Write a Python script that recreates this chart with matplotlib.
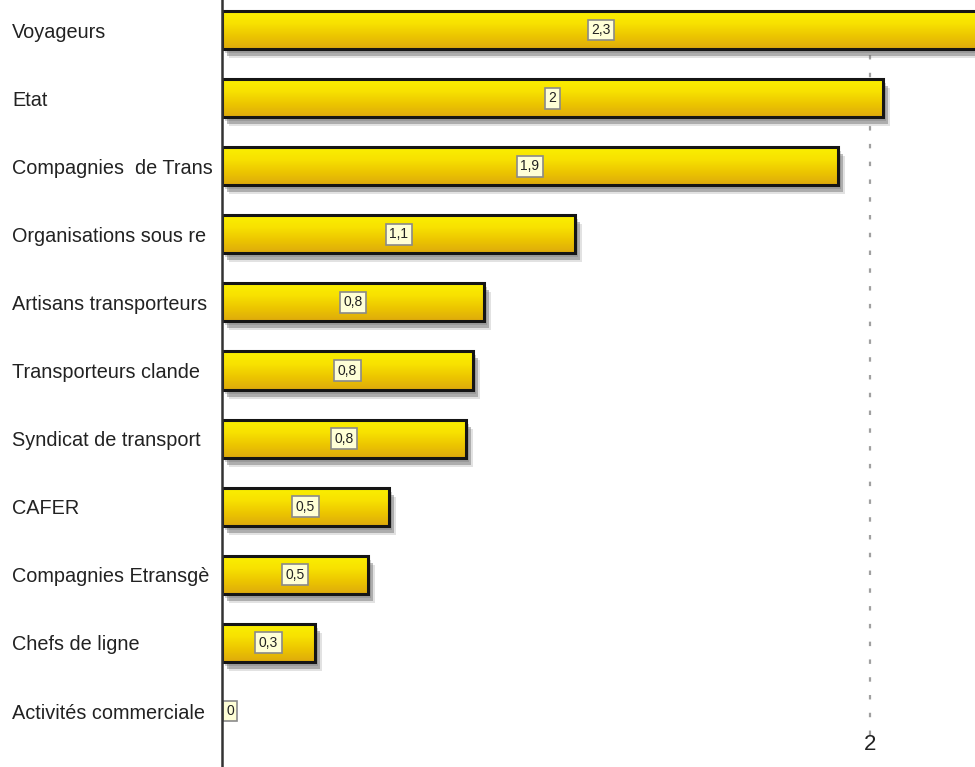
"""Horizontal bar chart: acteurs du transport (scores)."""

import matplotlib
matplotlib.use("Agg")
import matplotlib.pyplot as plt
import numpy as np
from matplotlib.patches import Rectangle
from matplotlib.transforms import offset_copy

categories = [
    "Voyageurs",
    "Etat",
    "Compagnies  de Trans",
    "Organisations sous re",
    "Artisans transporteurs",
    "Transporteurs clande",
    "Syndicat de transport",
    "CAFER",
    "Compagnies Etransgè",
    "Chefs de ligne",
    "Activités commerciale",
]
values = [2.34, 2.04, 1.90, 1.09, 0.81, 0.775, 0.753, 0.515, 0.45, 0.287, 0.0]
labels = ["2,3", "2", "1,9", "1,1", "0,8", "0,8", "0,8", "0,5", "0,5", "0,3", "0"]

plt.rcParams["font.family"] = ["Liberation Sans", "DejaVu Sans"]

fig = plt.figure(figsize=(9.75, 7.67), dpi=100)
ax = fig.add_axes([222 / 975, 0.0, 1 - 222 / 975, 1.0])

bar_h = 0.56
ypos = np.arange(len(categories))

# vertical gradient used to fill each bar
grad = np.linspace(0, 1, 64)
stops = np.array([[250, 240, 0], [248, 226, 0], [236, 198, 0], [222, 170, 12]]) / 255
img = np.stack([np.interp(grad, np.linspace(0, 1, 4), stops[:, c]) for c in range(3)], axis=-1)
img = img.reshape(-1, 1, 3)

# grid line at x=2, stops short of the tick label
ax.axvline(2, ymin=32 / 767, ymax=(767 - 45) / 767, color="#a0a0a0", lw=1.6,
           ls=(0, (2, 6)), zorder=1)

for y, v, lab in zip(ypos, values, labels):
    if v > 0:
        top = y - bar_h / 2
        # soft drop shadow: a few stacked offsets
        for dx, dy, a in [(3, -4, 0.3), (5, -7, 0.45), (7, -9, 0.2)]:
            tr = offset_copy(ax.transData, fig=fig, x=dx, y=dy, units="dots")
            ax.add_patch(Rectangle((0, top), v, bar_h, transform=tr,
                                   fc="#6e6e6e", ec="none", alpha=a, zorder=2))
        rect = Rectangle((0, top), v, bar_h, fc="none", ec="#151515", lw=2.2, zorder=4)
        ax.add_patch(rect)
        im = ax.imshow(img, extent=(0, v, y + bar_h / 2, top), aspect="auto",
                       origin="upper", zorder=3, interpolation="bilinear")
        im.set_clip_path(rect)
    xl = v / 2 if v > 0 else 0.025
    ax.text(xl, y, lab, ha="center", va="center", fontsize=10, color="#222222", zorder=6,
            bbox=dict(boxstyle="square,pad=0.25", fc="#FFFFD6", ec="#8a8a8a", lw=1.2))

ax.set_xlim(0, 753 / 324)
ax.set_ylim((767 - 30) / 68.1, -30 / 68.1)

ax.set_yticks(ypos)
ax.set_yticklabels(categories, ha="left", fontsize=14.3, color="#222222")
ax.tick_params(axis="y", length=0, pad=151)
ax.set_xticks([2])
ax.set_xticklabels(["2"], fontsize=16, color="#222222")
ax.tick_params(axis="x", length=0, pad=-24)

for s in ["top", "right", "bottom"]:
    ax.spines[s].set_visible(False)
ax.spines["left"].set_color("#333333")
ax.spines["left"].set_linewidth(1.8)
ax.spines["left"].set_zorder(7)

fig.savefig("out.png", dpi=100)
